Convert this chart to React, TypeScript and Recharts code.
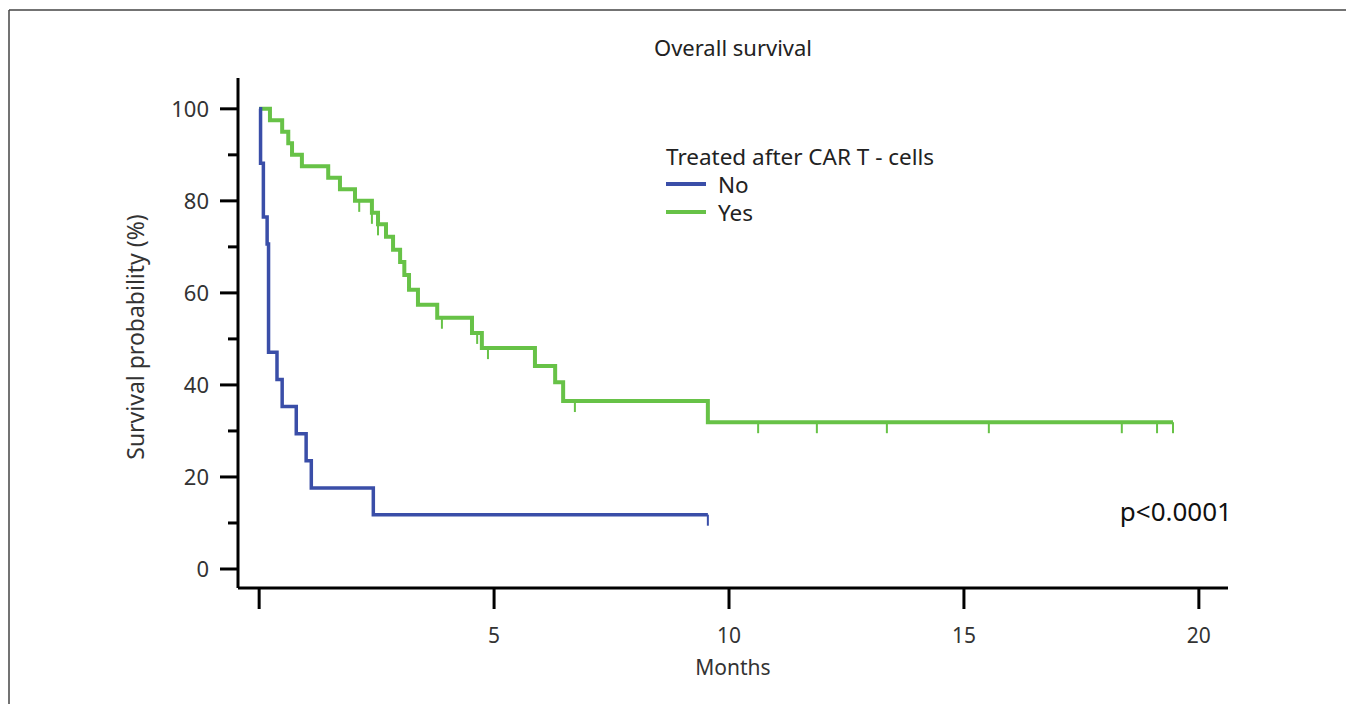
import { ComposedChart, Line, Scatter, XAxis, YAxis } from "recharts";

// Kaplan-Meier steps (months, survival %)
const noTimes = [0, 0.03, 0.09, 0.17, 0.2, 0.38, 0.49, 0.79, 1.0, 1.11, 2.43, 9.55];
const noSurv = [100, 88.2, 76.5, 70.6, 47.1, 41.2, 35.3, 29.4, 23.5, 17.6, 11.8, 11.8];
const noCensorTimes = [9.55];
const noCensorSurv = [11.8];

const yesTimes = [0, 0.23, 0.49, 0.62, 0.7, 0.91, 1.47, 1.72, 2.04, 2.4, 2.53, 2.7, 2.85, 3.0, 3.09, 3.19, 3.38, 3.79, 4.53, 4.74, 5.87, 6.3, 6.47, 9.55, 19.45];
const yesSurv = [100, 97.5, 95, 92.5, 90, 87.5, 85, 82.5, 80, 77.4, 74.9, 72.2, 69.4, 66.7, 63.9, 60.7, 57.4, 54.6, 51.3, 48, 44.1, 40.6, 36.5, 31.9, 31.9];
const yesCensorTimes = [2.13, 2.4, 2.53, 3.89, 4.64, 4.87, 6.72, 10.62, 11.87, 13.36, 15.53, 18.36, 19.11, 19.45];
const yesCensorSurv = [80, 77.4, 74.9, 54.6, 51.3, 48, 36.5, 31.9, 31.9, 31.9, 31.9, 31.9, 31.9, 31.9];

const xTicks = [0, 5, 10, 15, 20];
const yTicks = [0, 10, 20, 30, 40, 50, 60, 70, 80, 90, 100];

const BLUE = "#3a4ea8";
const GREEN = "#67c247";
const FONT = "'Noto Sans', sans-serif";

const zip = (t: number[], s: number[]) => t.map((v, i) => ({ t: v, s: s[i] }));
const noData = zip(noTimes, noSurv);
const yesData = zip(yesTimes, yesSurv);
const noCensor = zip(noCensorTimes, noCensorSurv);
const yesCensor = zip(yesCensorTimes, yesCensorSurv);

const censorMark = (color: string) => (p: any) => (
  <line x1={p.cx} x2={p.cx} y1={p.cy} y2={p.cy + 11} stroke={color} strokeWidth={2} />
);

const YTick = ({ x, y, payload }: any) => {
  const major = payload.value % 20 === 0;
  return (
    <g>
      <line x1={x - (major ? 18 : 10)} x2={x} y1={y} y2={y} stroke="#000" strokeWidth={3} />
      {major && (
        <text x={x - 29} y={y + 8} textAnchor="end" fontSize={22} fill="#333" fontFamily={FONT}>
          {payload.value}
        </text>
      )}
    </g>
  );
};

const XTick = ({ x, y, payload }: any) => (
  <g>
    <line x1={x} x2={x} y1={y} y2={y + 21} stroke="#000" strokeWidth={3} />
    {payload.value !== 0 && (
      <text x={x} y={y + 55} textAnchor="middle" fontSize={21} fill="#333" fontFamily={FONT}>
        {payload.value}
      </text>
    )}
  </g>
);

export default function App() {
  return (
    <div style={{ position: "absolute", left: 0, top: 0, width: 1346, height: 704, background: "#fff", overflow: "hidden" }}>
      <ComposedChart width={1346} height={704} margin={{ top: 78, right: 118, bottom: 0, left: 0 }}>
        <XAxis
          dataKey="t"
          type="number"
          domain={[-0.45, 20.62]}
          ticks={xTicks}
          allowDataOverflow
          height={116}
          tickSize={0}
          tickMargin={0}
          tick={<XTick />}
          tickLine={false}
          axisLine={{ stroke: "#000", strokeWidth: 3 }}
        />
        <YAxis
          type="number"
          domain={[-4.13, 106.7]}
          ticks={yTicks}
          allowDataOverflow
          width={238}
          tickSize={0}
          tickMargin={0}
          tick={<YTick />}
          tickLine={false}
          interval={0}
          axisLine={{ stroke: "#000", strokeWidth: 3 }}
        />
        <Line data={yesData} dataKey="s" type="stepAfter" stroke={GREEN} strokeWidth={4} dot={false} isAnimationActive={false} />
        <Line data={noData} dataKey="s" type="stepAfter" stroke={BLUE} strokeWidth={3.5} dot={false} isAnimationActive={false} />
        <Scatter data={yesCensor} dataKey="s" shape={censorMark(GREEN)} isAnimationActive={false} />
        <Scatter data={noCensor} dataKey="s" shape={censorMark(BLUE)} isAnimationActive={false} />
      </ComposedChart>
      <svg width={1346} height={704} style={{ position: "absolute", left: 0, top: 0, pointerEvents: "none" }} fontFamily={FONT}>
        <line x1={9} x2={1346} y1={10} y2={10} stroke="#444" strokeWidth={1.5} />
        <line x1={9} x2={9} y1={10} y2={704} stroke="#444" strokeWidth={1.5} />
        <text x={733} y={56} textAnchor="middle" fontSize={22} fill="#222">Overall survival</text>
        <text x={733} y={675} textAnchor="middle" fontSize={21} fill="#333">Months</text>
        <text x={144} y={337} textAnchor="middle" fontSize={23} fill="#333" transform="rotate(-90 144 337)">
          Survival probability (%)
        </text>
        <text x={666} y={165} fontSize={22.5} fill="#222">Treated after CAR T - cells</text>
        <line x1={666} x2={706} y1={184} y2={184} stroke={BLUE} strokeWidth={4} />
        <text x={718} y={193} fontSize={22.5} fill="#222">No</text>
        <line x1={666} x2={706} y1={212} y2={212} stroke={GREEN} strokeWidth={4} />
        <text x={718} y={221} fontSize={22.5} fill="#222">Yes</text>
        <text x={1232} y={521} textAnchor="end" fontSize={26} fill="#111">p&lt;0.0001</text>
      </svg>
    </div>
  );
}
